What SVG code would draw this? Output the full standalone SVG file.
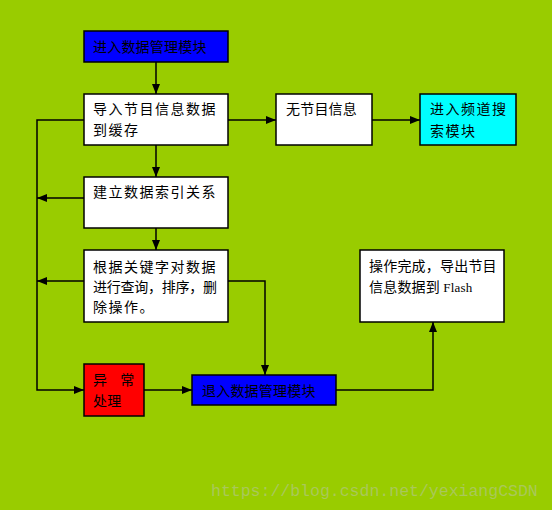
<svg xmlns="http://www.w3.org/2000/svg" width="552" height="510" viewBox="0 0 552 510">
<style>
.box{stroke:#000;stroke-width:1.5}
.w{fill:#fff}
.t{font-family:"Noto Sans CJK SC","Liberation Sans",sans-serif;font-size:14px;fill:#000;letter-spacing:1.5px}
.tb{font-family:"Noto Sans CJK SC","Liberation Sans",sans-serif;font-size:14px;fill:#000;letter-spacing:0.2px}
.ln{fill:none;stroke:#000;stroke-width:1.5}
</style>
<defs>
<marker id="ah" viewBox="0 0 10 10" refX="10" refY="5" markerWidth="10" markerHeight="10" markerUnits="userSpaceOnUse" orient="auto">
<path d="M0,1 L10,5 L0,9 Z" fill="#000"/>
</marker>
</defs>
<rect width="552" height="510" fill="#99CC00"/>
<text x="211" y="496" font-family="Liberation Mono, monospace" font-size="16.5" fill="#A9C85A">https://blog.csdn.net/yexiangCSDN</text>
<g id="connectors">
<path class="ln" d="M156,62 V94" marker-end="url(#ah)"/>
<path class="ln" d="M156,145 V177" marker-end="url(#ah)"/>
<path class="ln" d="M156,228 V250" marker-end="url(#ah)"/>
<path class="ln" d="M228,120 H276" marker-end="url(#ah)"/>
<path class="ln" d="M372,120 H420" marker-end="url(#ah)"/>
<path class="ln" d="M84,120 H37 V390 H84" marker-end="url(#ah)"/>
<path class="ln" d="M84,198 H37" marker-end="url(#ah)"/>
<path class="ln" d="M84,281 H37" marker-end="url(#ah)"/>
<path class="ln" d="M228,281 H265 V375" marker-end="url(#ah)"/>
<path class="ln" d="M144,390 H192" marker-end="url(#ah)"/>
<path class="ln" d="M336,390 H433 V322" marker-end="url(#ah)"/>
</g>
<g id="n1">
<rect class="box" x="84" y="31" width="144" height="31" fill="#0000FF"/>
<text class="tb" x="93" y="52">进入数据管理模块</text>
</g>
<g id="n2">
<rect class="box w" x="84" y="94" width="144" height="51"/>
<text class="t" x="93" y="114">导入节目信息数据</text>
<text class="t" x="93" y="135">到缓存</text>
</g>
<g id="n3">
<rect class="box w" x="84" y="177" width="144" height="51"/>
<text class="t" x="93" y="197">建立数据索引关系</text>
</g>
<g id="n4">
<rect class="box w" x="84" y="250" width="144" height="72"/>
<text class="t" x="93" y="272">根据关键字对数据</text>
<text class="t" x="93" y="292" style="letter-spacing:0" textLength="124" lengthAdjust="spacing">进行查询，排序，删</text>
<text class="t" x="93" y="312">除操作。</text>
</g>
<g id="n5">
<rect class="box w" x="276" y="94" width="96" height="51"/>
<text class="tb" x="286" y="114">无节目信息</text>
</g>
<g id="n6">
<rect class="box" x="420" y="94" width="96" height="51" fill="#00FFFF"/>
<text class="t" x="430" y="114">进入频道搜</text>
<text class="t" x="430" y="136">索模块</text>
</g>
<g id="n7">
<rect class="box" x="84" y="364" width="60" height="52" fill="#FF0000"/>
<text class="tb" x="93" y="385">异<tspan dx="13">常</tspan></text>
<text class="tb" x="93" y="406">处理</text>
</g>
<g id="n8">
<rect class="box" x="192" y="375" width="144" height="30" fill="#0000FF"/>
<text class="tb" x="202" y="396">退入数据管理模块</text>
</g>
<g id="n9">
<rect class="box w" x="360" y="250" width="144" height="72"/>
<text class="tb" x="369" y="271">操作完成，导出节目</text>
<text class="tb" x="369" y="292">信息数据到 <tspan font-family="Liberation Serif, serif" font-size="13">Flash</tspan></text>
</g>
</svg>
